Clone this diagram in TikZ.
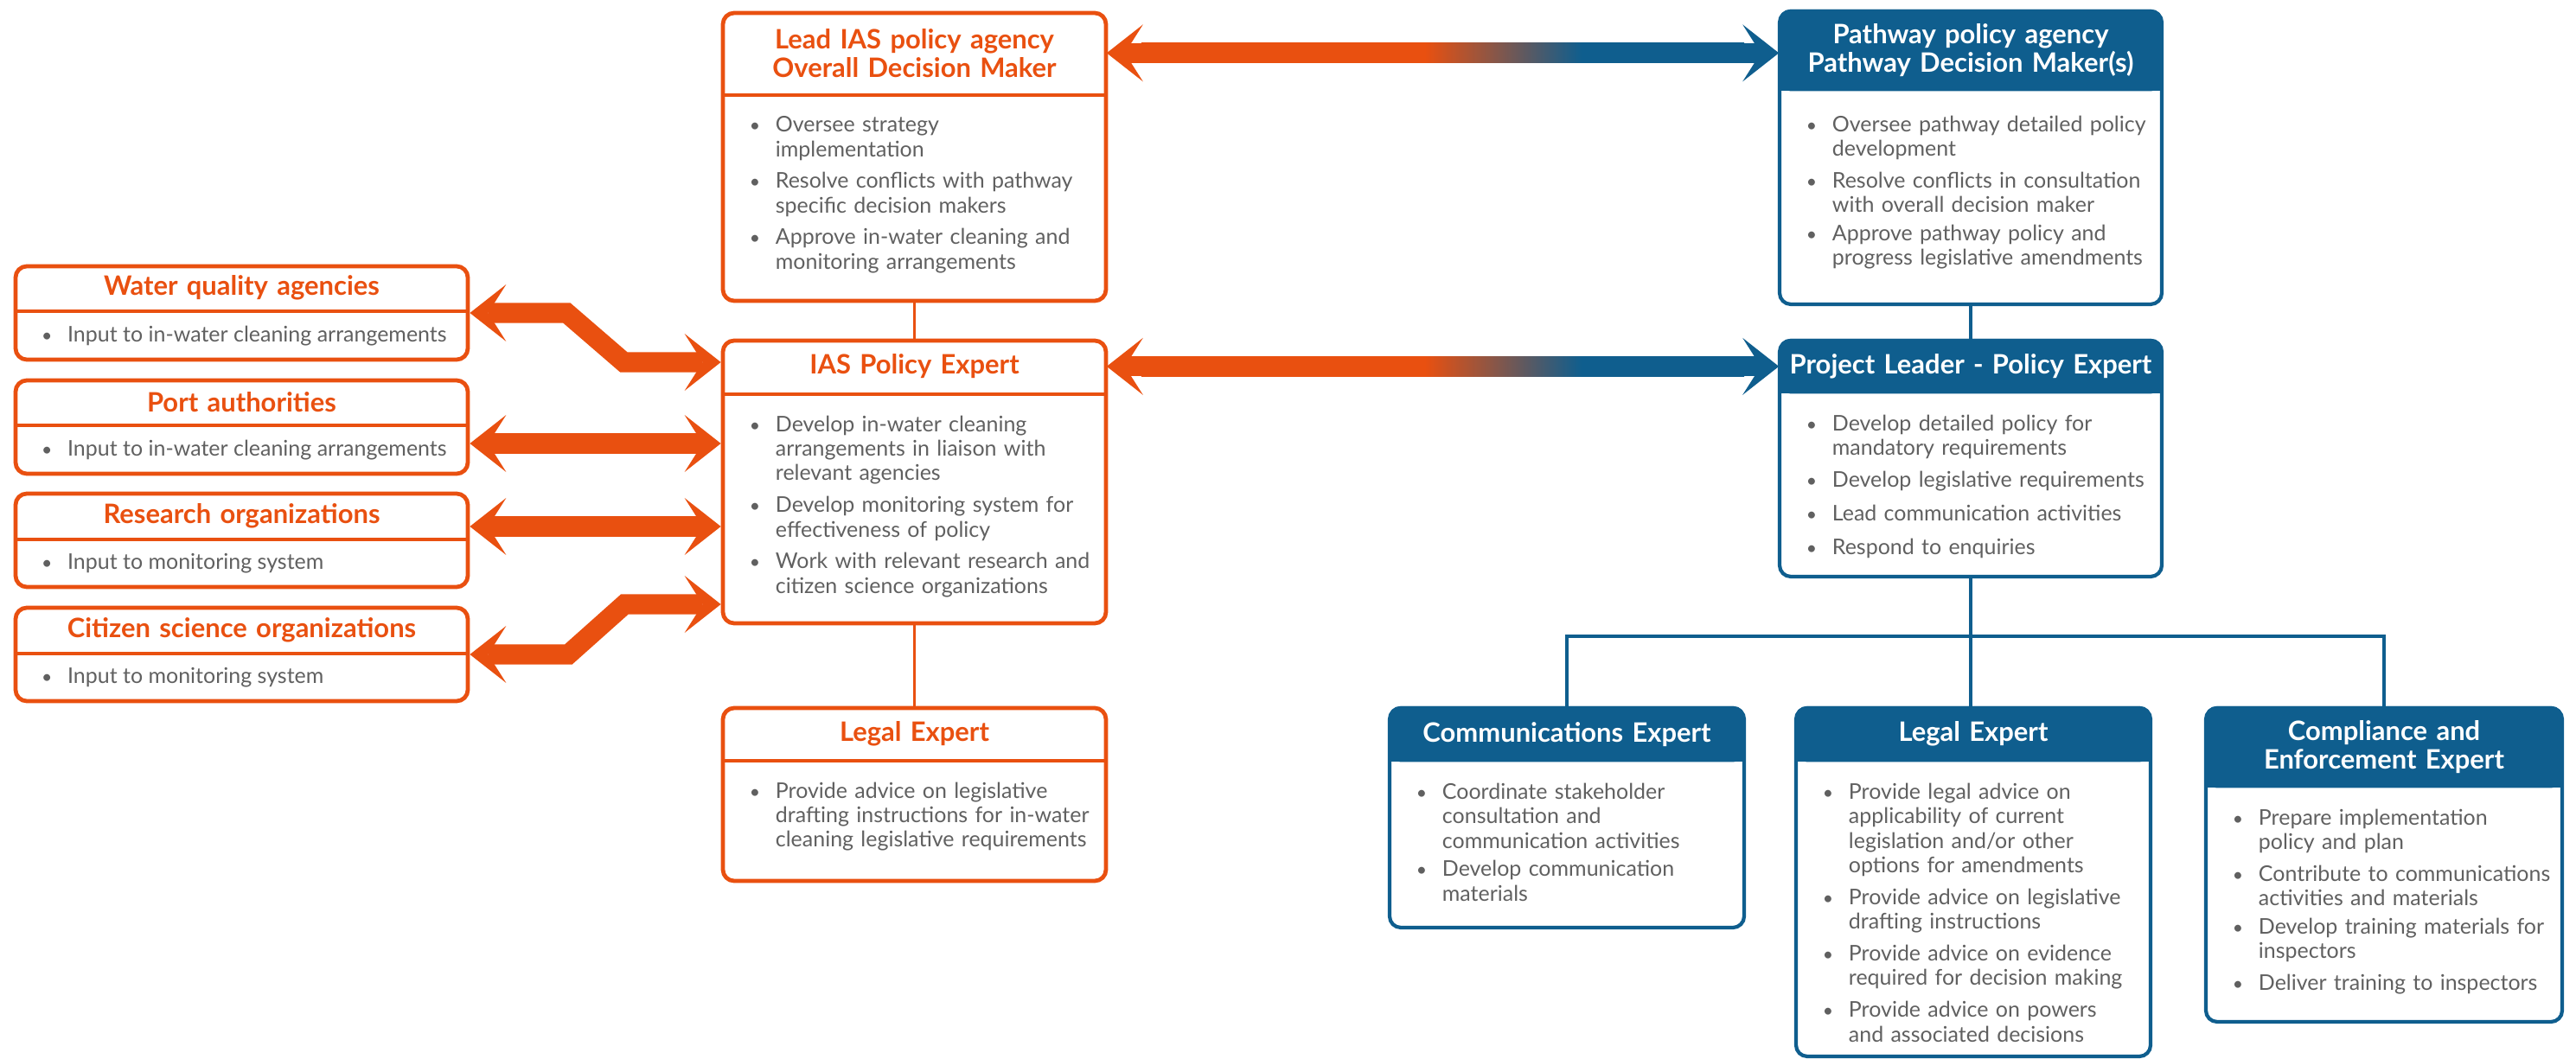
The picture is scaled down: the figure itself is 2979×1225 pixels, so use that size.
\documentclass[tikz,border=0pt]{standalone}
\usepackage{fontspec}
\setmainfont{Lato}
\usepackage{xcolor}
\usetikzlibrary{arrows.meta, positioning, fit, backgrounds, calc}

\definecolor{iasorange}{RGB}{233,80,16}
\definecolor{pathblue}{RGB}{15,94,142}
\definecolor{textgray}{RGB}{96,96,96}

\pgfdeclarehorizontalshading{orangetoblue}{100bp}{color(0bp)=(iasorange); color(48.5bp)=(iasorange); color(61.5bp)=(pathblue); color(100bp)=(pathblue)}

\newcommand{\dotmark}{\makebox[0.30cm][l]{\scalebox{0.85}{\textbullet}}}
\newcommand{\dotitem}[1]{\noindent\dotmark\parbox[t]{\dimexpr\hsize-0.30cm\relax}{\raggedright #1}\par\vspace{3pt}}

\tikzset{chev/.tip={Stealth[length=0.42cm, width=0.66cm, inset=0.21cm, line width=0pt]}}

\begin{document}
\begin{tikzpicture}[
    x=0.01cm, y=-0.01cm,
    every node/.style={inner sep=0pt},
    oframe/.style={draw=iasorange, line width=1.35pt, rounded corners=0.13cm},
    bframe/.style={draw=pathblue, line width=1.2pt, rounded corners=0.13cm},
    otitle/.style={text=iasorange, align=center, anchor=north, font=\fontsize{8.8}{9.4}\selectfont\bfseries},
    btitle/.style={otitle, text=white},
    itemtext/.style={text=textgray, align=left, anchor=north west, xshift=0.31cm, yshift=-0.24cm, font=\fontsize{7.1}{8.05}\selectfont},
    sidetext/.style={text=textgray, anchor=base west, xshift=0.31cm, yshift=-0.06cm, font=\fontsize{7.1}{8.05}\selectfont},
    osep/.style={draw=iasorange, line width=1.35pt},
    olink/.style={draw=iasorange, line width=1.1pt},
    blink/.style={draw=pathblue, line width=1.1pt},
    fat/.style={line width=0.23cm, arrows={chev-chev}}
]
\useasboundingbox (0,0) rectangle (2979,1225);

% Lead agency column
\node[oframe, fit={(836,15) (1279,348)}] (lead) {};
\node[otitle, text width=4.43cm, minimum height=0.96cm] (leadt) at (lead.north) {Lead IAS policy agency\\Overall Decision Maker};
\node[itemtext, text width=4.0cm] (leadb) at (leadt.south west) {%
\dotitem{Oversee strategy\\implementation}
\dotitem{Resolve conflicts with pathway\\specific decision makers}
\dotitem{Approve in-water cleaning and\\monitoring arrangements}};

\node[oframe, fit={(836,394) (1279,721)}] (ias) {};
\node[otitle, text width=4.43cm, minimum height=0.63cm] (iast) at (ias.north) {IAS Policy Expert};
\node[itemtext, text width=4.0cm] (iasb) at (iast.south west) {%
\dotitem{Develop in-water cleaning\\arrangements in liaison with\\relevant agencies}
\dotitem{Develop monitoring system for\\effectiveness of policy}
\dotitem{Work with relevant research and\\citizen science organizations}};

\node[oframe, fit={(836,819) (1279,1019)}] (olegal) {};
\node[otitle, text width=4.43cm, minimum height=0.62cm] (olegalt) at (olegal.north) {Legal Expert};
\node[itemtext, text width=4.0cm] (olegalb) at (olegalt.south west) {%
\dotitem{Provide advice on legislative\\drafting instructions for in-water\\cleaning legislative requirements}};

% Side agencies
\node[oframe, fit={(18,308) (541,416)}] (water) {};
\node[otitle, text width=5.23cm, minimum height=0.53cm] (watert) at (water.north) {Water quality agencies};
\node[sidetext] (waterb) at ($(watert.south west)!0.5!(water.south west)$) {\dotmark Input to in-water cleaning arrangements};

\node[oframe, fit={(18,440) (541,548)}] (port) {};
\node[otitle, text width=5.23cm, minimum height=0.53cm] (portt) at (port.north) {Port authorities};
\node[sidetext] (portb) at ($(portt.south west)!0.5!(port.south west)$) {\dotmark Input to in-water cleaning arrangements};

\node[oframe, fit={(18,571) (541,679)}] (research) {};
\node[otitle, text width=5.23cm, minimum height=0.54cm] (researcht) at (research.north) {Research organizations};
\node[sidetext] (researchb) at ($(researcht.south west)!0.5!(research.south west)$) {\dotmark Input to monitoring system};

\node[oframe, fit={(18,703) (541,811)}] (citizen) {};
\node[otitle, text width=5.23cm, minimum height=0.54cm] (citizent) at (citizen.north) {Citizen science organizations};
\node[sidetext] (citizenb) at ($(citizent.south west)!0.5!(citizen.south west)$) {\dotmark Input to monitoring system};

% Pathway column
\node[bframe, fit={(2058,13) (2500,352)}] (path) {};
\node[btitle, text width=4.42cm, minimum height=0.93cm] (patht) at (path.north) {Pathway policy agency\\Pathway Decision Maker(s)};
\node[itemtext, text width=4.0cm, yshift=-0.04cm] (pathb) at (patht.south west) {%
\dotitem{Oversee pathway detailed policy\\development}
\dotitem{Resolve conflicts in consultation\\with overall decision maker}
\dotitem{Approve pathway policy and\\progress legislative amendments}};

\node[bframe, fit={(2058,394) (2500,667)}] (leader) {};
\node[btitle, text width=4.42cm, minimum height=0.62cm] (leadert) at (leader.north) {Project Leader - Policy Expert};
\node[itemtext, text width=4.0cm] (leaderb) at (leadert.south west) {%
\dotitem{Develop detailed policy for\\mandatory requirements}
\dotitem{Develop legislative requirements}
\dotitem{Lead communication activities}
\dotitem{Respond to enquiries}};

\node[bframe, fit={(1607,819) (2017,1073)}] (comms) {};
\node[btitle, text width=4.10cm, minimum height=0.63cm] (commst) at (comms.north) {Communications Expert};
\node[itemtext, text width=3.7cm] (commsb) at (commst.south west) {%
\dotitem{Coordinate stakeholder\\consultation and\\communication activities}
\dotitem{Develop communication\\materials}};

\node[bframe, fit={(2077,819) (2487,1222)}] (blegal) {};
\node[btitle, text width=4.10cm, minimum height=0.63cm] (blegalt) at (blegal.north) {Legal Expert};
\node[itemtext, text width=3.7cm] (blegalb) at (blegalt.south west) {%
\dotitem{Provide legal advice on\\applicability of current\\legislation and/or other\\options for amendments}
\dotitem{Provide advice on legislative\\drafting instructions}
\dotitem{Provide advice on evidence\\required for decision making}
\dotitem{Provide advice on powers\\and associated decisions}};

\node[bframe, fit={(2551,819) (2963,1182)}] (comp) {};
\node[btitle, text width=4.12cm, minimum height=0.93cm] (compt) at (comp.north) {Compliance and\\Enforcement Expert};
\node[itemtext, text width=3.7cm] (compb) at (compt.south west) {%
\dotitem{Prepare implementation\\policy and plan}
\dotitem{Contribute to communications\\activities and materials}
\dotitem{Develop training materials for\\inspectors}
\dotitem{Deliver training to inspectors}};

% Header rules and fills
\foreach \n in {leadt, iast, olegalt, watert, portt, researcht, citizent}
  \draw[osep] (\n.south west) -- (\n.south east);
\begin{scope}[on background layer]
\foreach \n in {patht, leadert, commst, blegalt, compt} {
  \fill[pathblue, rounded corners=0.13cm] (\n.south west) rectangle (\n.north east);
  \fill[pathblue] (\n.south west) rectangle (\n.east);
}
\end{scope}

% Thin links
\draw[olink] (lead) -- (ias);
\draw[olink] (ias) -- (olegal);
\draw[blink] (path) -- (leader);
\coordinate (bus) at (2282,736);
\draw[blink] (leader.south) -- (leader.south |- blegal.north);
\draw[blink] (comms.north) |- (bus) -| (comp.north);

% Fat arrows to the side agencies
\draw[fat, iasorange] (water.east) -- ++(112,0) -- ++(66,57) -- (ias.west |- 0,419);
\draw[fat, iasorange] (port.east |- 0,513) -- (ias.west |- 0,513);
\draw[fat, iasorange] (research.east |- 0,609) -- (ias.west |- 0,609);
\draw[fat, iasorange] (citizen.east) -- ++(114,0) -- ++(65,-58) -- (ias.west |- 0,699);

% Shaded arrows between the columns
\coordinate (toptip) at (leadt.east -| patht.west);
\coordinate (midtip) at (iast.east -| leadert.west);
\shade[shading=orangetoblue] ($(leadt.east)+(40,-11.5)$) rectangle ($(toptip)+(-40,11.5)$);
\shade[shading=orangetoblue] ($(iast.east)+(40,-11.5)$) rectangle ($(midtip)+(-40,11.5)$);
\draw[fat, iasorange, arrows={chev-}] (leadt.east) -- ++(50,0);
\draw[fat, pathblue, arrows={-chev}] ($(toptip)+(-50,0)$) -- (toptip);
\draw[fat, iasorange, arrows={chev-}] (iast.east) -- ++(50,0);
\draw[fat, pathblue, arrows={-chev}] ($(midtip)+(-50,0)$) -- (midtip);

\end{tikzpicture}
\end{document}
